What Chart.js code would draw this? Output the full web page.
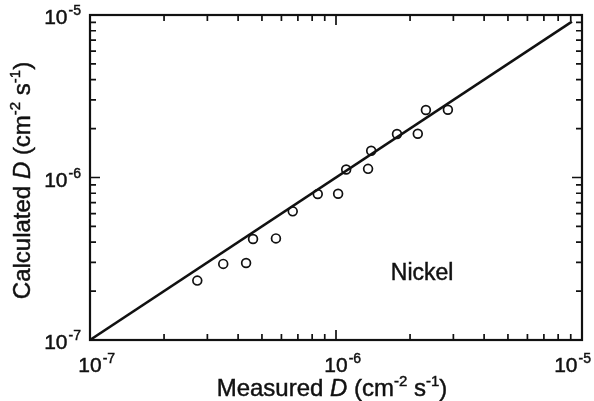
<!DOCTYPE html>
<html>
<head>
<meta charset="utf-8">
<script src="https://cdn.jsdelivr.net/npm/chart.js@4"></script>
<style>
  html, body { margin: 0; padding: 0; background: #ffffff; }
  #wrap { width: 594px; height: 401px; }
</style>
</head>
<body>
<div id="wrap"><canvas id="c" width="594" height="401"></canvas></div>
<script>
// ---- data ----
const measuredD   = [2.73e-7, 3.48e-7, 4.31e-7, 4.6e-7, 5.7e-7, 6.67e-7, 8.43e-7, 1.02e-6, 1.10e-6, 1.35e-6, 1.39e-6, 1.77e-6, 2.15e-6, 2.32e-6, 2.85e-6];
const calculatedD = [2.32e-7, 2.94e-7, 2.98e-7, 4.18e-7, 4.22e-7, 6.19e-7, 7.92e-7, 7.95e-7, 1.12e-6, 1.13e-6, 1.46e-6, 1.85e-6, 1.86e-6, 2.60e-6, 2.61e-6];
const fitLineX = [1e-7, 9.1e-6];
const fitLineY = [1e-7, 9.1e-6];
const decadeTicks = [1e-7, 1e-6, 1e-5];
const decadeExponents = ['-7', '-6', '-5'];
const minorMultipliers = [2, 3, 4, 5, 6, 7, 8, 9];
const xTitleParts = [['Measured ', 'n'], ['D', 'i'], [' (cm', 'n'], ['-2', 's'], [' s', 'n'], ['-1', 's'], [')', 'n']];
const yTitleParts = [['Calculated ', 'n'], ['D', 'i'], [' (cm', 'n'], ['-2', 's'], [' s', 'n'], ['-1', 's'], [')', 'n']];
const annotationText = 'Nickel';
const annotationX = [1.67e-6];
const annotationY = [2.34e-7];

const FAMILY = '"Liberation Sans", Arial, Helvetica, sans-serif';
const INK = '#111111';

function paintText(ctx, t, x, y) {
  ctx.fillText(t, x, y);
  ctx.strokeText(t, x, y);
}

function drawParts(ctx, parts, x, y, size, align) {
  const supSize = Math.round(size * 0.62);
  const fontFor = k => k === 'i' ? `italic ${size}px ${FAMILY}` : (k === 's' ? `${supSize}px ${FAMILY}` : `${size}px ${FAMILY}`);
  let total = 0;
  parts.forEach(p => { ctx.font = fontFor(p[1]); total += ctx.measureText(p[0]).width; });
  let cx = align === 'center' ? x - total / 2 : x;
  ctx.textAlign = 'left';
  ctx.textBaseline = 'alphabetic';
  parts.forEach(p => {
    ctx.font = fontFor(p[1]);
    const yy = p[1] === 's' ? y - size * 0.42 : y;
    paintText(ctx, p[0], cx, yy);
    cx += ctx.measureText(p[0]).width;
  });
}

const framePlugin = {
  id: 'frame',
  afterDatasetsDraw(chart) {
    const ctx = chart.ctx;
    const a = chart.chartArea;
    const xs = chart.scales.x, ys = chart.scales.y;
    ctx.save();
    ctx.strokeStyle = INK;
    ctx.fillStyle = INK;
    // frame
    ctx.lineWidth = 2.2;
    ctx.strokeRect(a.left, a.top, a.right - a.left, a.bottom - a.top);
    // inward ticks on all four sides
    ctx.lineWidth = 1.7;
    const majorLen = 10, minorLen = 6;
    const drawX = (v, len) => {
      const px = xs.getPixelForValue(v);
      ctx.beginPath();
      ctx.moveTo(px, a.bottom); ctx.lineTo(px, a.bottom - len);
      ctx.moveTo(px, a.top); ctx.lineTo(px, a.top + len);
      ctx.stroke();
    };
    const drawY = (v, len) => {
      const py = ys.getPixelForValue(v);
      ctx.beginPath();
      ctx.moveTo(a.left, py); ctx.lineTo(a.left + len, py);
      ctx.moveTo(a.right, py); ctx.lineTo(a.right - len, py);
      ctx.stroke();
    };
    decadeTicks.forEach((d, i) => {
      drawX(d, majorLen); drawY(d, majorLen);
      if (i < decadeTicks.length - 1) {
        minorMultipliers.forEach(m => { drawX(d * m, minorLen); drawY(d * m, minorLen); });
      }
    });
    // text: light stroke to mimic the heavier printed type
    ctx.lineWidth = 0.45;
    const baseSize = 21, supSize = 14;
    decadeTicks.forEach((d, i) => {
      ctx.font = `${baseSize}px ${FAMILY}`;
      const w1 = ctx.measureText('10').width;
      ctx.font = `${supSize}px ${FAMILY}`;
      const w2 = ctx.measureText(decadeExponents[i]).width;
      ctx.textAlign = 'left';
      ctx.textBaseline = 'alphabetic';
      // x labels
      const px = xs.getPixelForValue(d);
      let left = px - w1 / 2;
      if (left + w1 + w2 > chart.width - 4) left = chart.width - 4 - w1 - w2;
      const by = a.bottom + 32;
      ctx.font = `${baseSize}px ${FAMILY}`;
      paintText(ctx, '10', left, by);
      ctx.font = `${supSize}px ${FAMILY}`;
      paintText(ctx, decadeExponents[i], left + w1 + 1, by - 9);
      // y labels
      const py = ys.getPixelForValue(d);
      const right = a.left - 9;
      const yl = right - w1 - w2 - 1;
      ctx.font = `${baseSize}px ${FAMILY}`;
      paintText(ctx, '10', yl, py + 9);
      ctx.font = `${supSize}px ${FAMILY}`;
      paintText(ctx, decadeExponents[i], yl + w1 + 1, py);
    });
    // axis titles
    drawParts(ctx, xTitleParts, (a.left + a.right) / 2 - 4, 396, 24, 'center');
    ctx.save();
    ctx.translate(30, (a.top + a.bottom) / 2 + 3);
    ctx.rotate(-Math.PI / 2);
    drawParts(ctx, yTitleParts, 0, 0, 24, 'center');
    ctx.restore();
    // annotation
    ctx.font = `23px ${FAMILY}`;
    ctx.textAlign = 'left';
    ctx.textBaseline = 'alphabetic';
    paintText(ctx, annotationText, xs.getPixelForValue(annotationX[0]), ys.getPixelForValue(annotationY[0]));
    ctx.restore();
  }
};

const points = measuredD.map((x, i) => ({ x: x, y: calculatedD[i] }));
const line = fitLineX.map((x, i) => ({ x: x, y: fitLineY[i] }));

new Chart(document.getElementById('c'), {
  type: 'scatter',
  data: {
    datasets: [
      {
        label: 'fit',
        data: line,
        showLine: true,
        borderColor: INK,
        borderWidth: 2.5,
        pointRadius: 0,
        fill: false,
        order: 2
      },
      {
        label: 'Nickel',
        data: points,
        pointStyle: 'circle',
        pointRadius: 4.4,
        pointBorderWidth: 1.7,
        borderColor: INK,
        backgroundColor: 'rgba(0,0,0,0)',
        pointBackgroundColor: 'rgba(0,0,0,0)',
        pointBorderColor: INK,
        order: 1
      }
    ]
  },
  options: {
    responsive: false,
    animation: false,
    devicePixelRatio: 1,
    layout: { padding: { top: 15, right: 12, left: 0, bottom: 0 } },
    plugins: { legend: { display: false }, tooltip: { enabled: false } },
    scales: {
      x: {
        type: 'logarithmic',
        min: 1e-7, max: 1e-5,
        grid: { display: false },
        border: { display: false },
        ticks: { display: false },
        afterFit(s) { s.height = 61; }
      },
      y: {
        type: 'logarithmic',
        min: 1e-7, max: 1e-5,
        grid: { display: false },
        border: { display: false },
        ticks: { display: false },
        afterFit(s) { s.width = 90; }
      }
    }
  },
  plugins: [framePlugin]
});
</script>
</body>
</html>
